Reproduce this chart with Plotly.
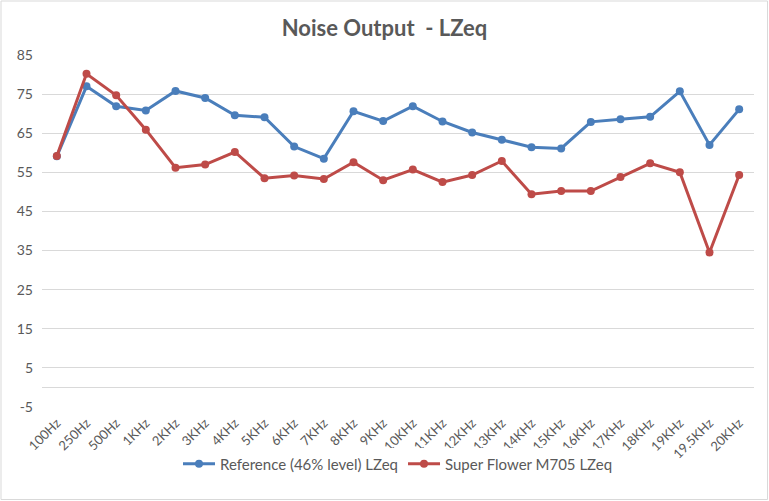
import plotly.graph_objects as go

categories = ["100Hz", "250Hz", "500Hz", "1KHz", "2KHz", "3KHz", "4KHz", "5KHz", "6KHz",
              "7KHz", "8KHz", "9KHz", "10KHz", "11KHz", "12KHz", "13KHz", "14KHz", "15KHz",
              "16KHz", "17KHz", "18KHz", "19KHz", "19.5KHz", "20KHz"]
reference_lzeq = [59.1, 77.0, 71.9, 70.8, 75.8, 74.0, 69.6, 69.1, 61.6, 58.5, 70.6, 68.1,
                  71.9, 68.0, 65.2, 63.3, 61.4, 61.1, 67.9, 68.6, 69.2, 75.7, 62.0, 71.1]
superflower_lzeq = [59.2, 80.2, 74.7, 65.9, 56.2, 57.0, 60.2, 53.5, 54.2, 53.3, 57.6, 53.0,
                    55.7, 52.5, 54.3, 57.9, 49.4, 50.2, 50.2, 53.8, 57.3, 55.0, 34.5, 54.3]
y_ticks = [-5, 5, 15, 25, 35, 45, 55, 65, 75, 85]
y_tick_labels = ["-5", "5", "15", "25", "35", "45", "55", "65", "75", "85"]

FONT = "Lato"
GRAY = "#595959"

fig = go.Figure()
fig.add_trace(go.Scatter(
    x=categories, y=reference_lzeq, mode="lines+markers",
    name="Reference (46% level) LZeq",
    line=dict(color="#4A7EBB", width=3), marker=dict(size=8, color="#4A7EBB")))
fig.add_trace(go.Scatter(
    x=categories, y=superflower_lzeq, mode="lines+markers",
    name="Super Flower M705 LZeq",
    line=dict(color="#BE4B48", width=3), marker=dict(size=8, color="#BE4B48")))

L, R, T, B = 42, 15, 55, 94
W, H = 769, 501
pw, ph = W - L - R, H - T - B

fig.update_layout(
    width=W, height=H,
    margin=dict(l=L, r=R, t=T, b=B, autoexpand=False),
    paper_bgcolor="white", plot_bgcolor="white",
    font=dict(family=FONT, color=GRAY, size=12),
    title=dict(text="Noise Output\u00a0\u00a0- LZeq", x=0.5, xanchor="center",
               y=1 - 28 / H, yanchor="middle",
               font=dict(family=FONT, size=22, color=GRAY, weight="bold")),
    showlegend=True,
    legend=dict(orientation="h", x=0.5, xanchor="center", y=-(464 - T - ph) / ph,
                yanchor="middle", font=dict(size=15, color=GRAY), traceorder="normal",
                itemwidth=32),
    xaxis=dict(type="category", range=[-0.5, len(categories) - 0.5], showgrid=False,
               showline=False, zeroline=False, tickangle=-45, ticks="", automargin=False,
               ticklabelstandoff=5,
               tickfont=dict(size=13, color=GRAY)),
    yaxis=dict(range=[-5, 85], tickvals=y_ticks, ticktext=y_tick_labels, showgrid=True,
               gridcolor="#D9D9D9", automargin=False, ticklabelstandoff=8,
               gridwidth=1, zeroline=True, zerolinecolor="#D9D9D9", zerolinewidth=1,
               showline=False, ticks="", tickfont=dict(size=14, color=GRAY)),
    shapes=[dict(type="rect", xref="paper", yref="paper",
                 x0=-(L - 1) / pw, x1=1 + (R - 1.5) / pw,
                 y0=-(B - 1.5) / ph, y1=1 + (T - 1) / ph,
                 line=dict(color="#D9D9D9", width=1))],
)

fig.write_html("out.html", config={"displayModeBar": False},
               post_script="document.body.style.margin='0';document.body.style.overflow='hidden';")
